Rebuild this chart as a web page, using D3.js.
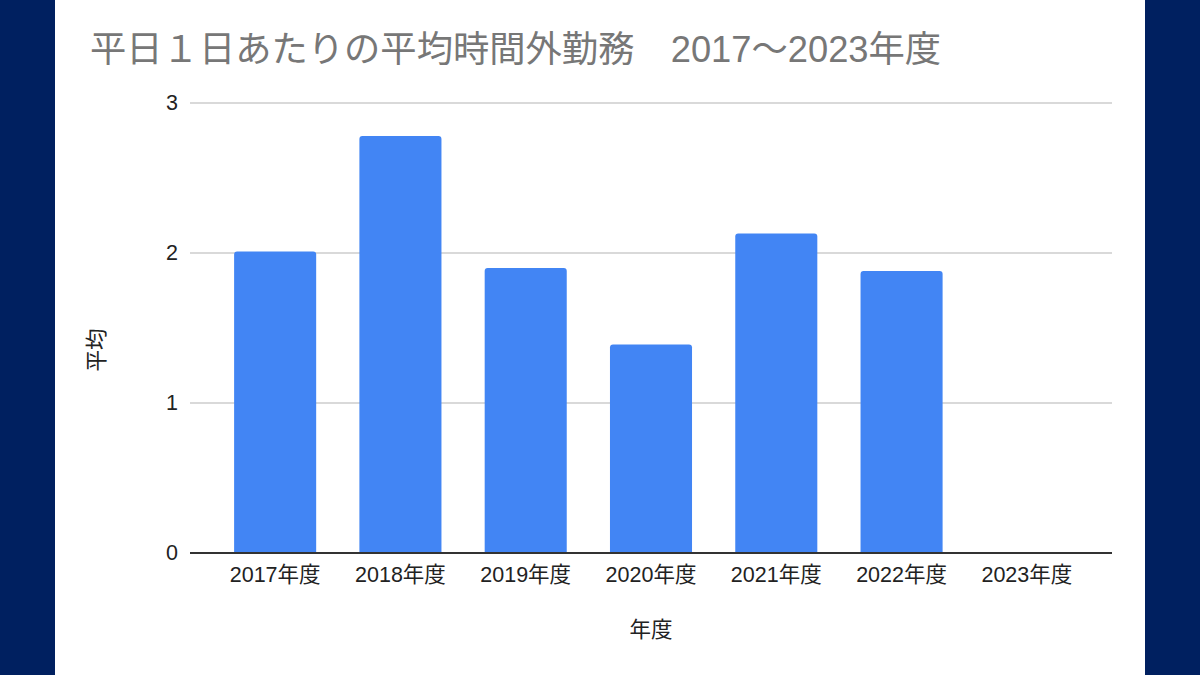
<!DOCTYPE html>
<html><head><meta charset="utf-8">
<script src="https://cdn.jsdelivr.net/npm/d3@7"></script>
<style>
html,body{margin:0;padding:0;background:#002060;}
svg{display:block;}
text{font-family:"Liberation Sans","Noto Sans CJK JP",sans-serif;}
</style></head>
<body>
<svg id="c" width="1200" height="675"></svg>
<script>
const categories = ["2017年度","2018年度","2019年度","2020年度","2021年度","2022年度","2023年度"];
const values = [2.01, 2.78, 1.90, 1.39, 2.13, 1.88, null];
const yTicks = [0, 1, 2, 3];
const title = "平日１日あたりの平均時間外勤務　2017～2023年度";
const yTitle = "平均";
const xTitle = "年度";

(function(){
const svg = d3.select("#c");
svg.append("rect").attr("x",0).attr("y",0).attr("width",1200).attr("height",675).attr("fill","#002060");
svg.append("rect").attr("x",55).attr("y",0).attr("width",1090).attr("height",675).attr("fill","#ffffff");

const pLeft = 190, pRight = 1112, pTop = 103, pBottom = 553;
const fs = 21.5;

const x = d3.scaleBand().domain(categories).range([212.5, 1089.5]).paddingInner(0.345).paddingOuter(0.1725);
const y = d3.scaleLinear().domain([0,3]).range([pBottom, pTop]);

svg.append("text").attr("x",90).attr("y",62).attr("fill","#777777")
  .attr("font-size",36.3).text(title);

// gridlines
svg.append("g").selectAll("line").data(yTicks.filter(d=>d>0)).join("line")
  .attr("x1",pLeft).attr("x2",pRight).attr("y1",d=>y(d)).attr("y2",d=>y(d))
  .attr("stroke","#cccccc").attr("stroke-width",1.5);

// y tick labels
const yAxis = d3.axisLeft(y).tickValues(yTicks).tickSize(0).tickPadding(0).tickFormat(d3.format("d"));
const gy = svg.append("g").attr("transform",`translate(${pLeft-12},0)`).call(yAxis);
gy.select(".domain").remove();
gy.selectAll("text").attr("font-size",fs).attr("fill","#222").attr("font-family",'"Liberation Sans","Noto Sans CJK JP",sans-serif');

// bars with rounded top corners
const r = 3;
svg.append("g").selectAll("path").data(categories.map((c,i)=>({c,v:values[i]})).filter(d=>d.v!=null)).join("path")
  .attr("fill","#4285F4")
  .attr("d",d=>{
    const x0 = x(d.c), x1 = x0 + x.bandwidth(), y0 = y(d.v), yb = y(0);
    return `M${x0},${yb}V${y0+r}Q${x0},${y0} ${x0+r},${y0}H${x1-r}Q${x1},${y0} ${x1},${y0+r}V${yb}Z`;
  });

// x axis
const xAxis = d3.axisBottom(x).tickSize(0).tickPadding(0);
const gx = svg.append("g").attr("transform",`translate(0,${pBottom})`).call(xAxis);
gx.select(".domain").remove();
gx.selectAll("text").attr("font-size",fs).attr("fill","#222").attr("dy","1.35em")
  .attr("font-family",'"Liberation Sans","Noto Sans CJK JP",sans-serif');
svg.append("line").attr("x1",pLeft).attr("x2",pRight).attr("y1",y(0)).attr("y2",y(0))
  .attr("stroke","#333").attr("stroke-width",2);

// axis titles
svg.append("text").attr("x",651).attr("y",637).attr("text-anchor","middle")
  .attr("font-size",fs).attr("fill","#222").text(xTitle);
svg.append("text").attr("transform","translate(104,350) rotate(-90)").attr("text-anchor","middle")
  .attr("font-size",fs).attr("fill","#222").text(yTitle);
})();
</script>
</body></html>
